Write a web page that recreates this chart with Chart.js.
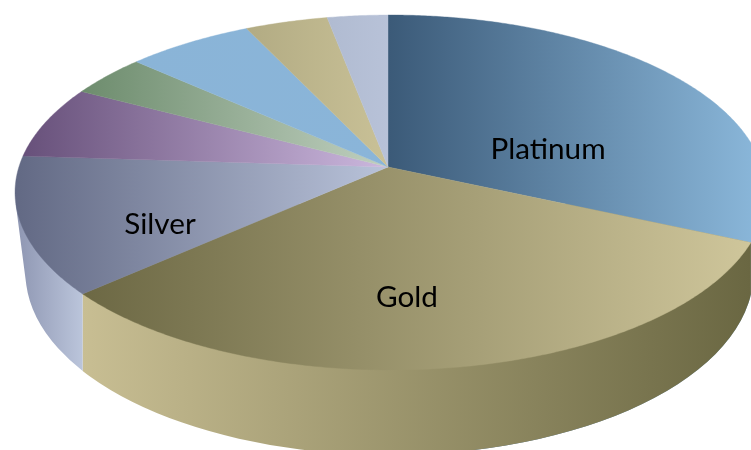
<!DOCTYPE html>
<html>
<head>
<meta charset="utf-8">
<style>html,body{margin:0;padding:0;background:#fff;overflow:hidden}canvas{display:block}</style>
<script src="https://cdn.jsdelivr.net/npm/chart.js@4"></script>
</head>
<body>
<canvas id="c" width="751" height="450"></canvas>
<script>
const categories = ["Platinum","Gold","Silver","Palladium","Rhodium","Copper","Nickel","Other"];
const shares = [31.7,31.8,12.6,6.7,3.9,6.3,4.1,3.0];
const sliceDark  = ["#3b5a78","#6c6844","#626984","#67507a","#6d8c6d","#8ab4d7","#b2ab83","#b0bbd1"];
const sliceLight = ["#8cb9dc","#cfc69b","#b9c3da","#ccb8de","#c0d0c0","#8ab5d9","#c9c197","#b8c2d8"];
const wallDark   = ["#3b5a78","#6a6742","#8d95b1"];
const wallLight  = ["#8ab7da","#c8be93","#bbc5db"];
const labelled   = ["Platinum","Gold","Silver"];

// Perspective of the pie's top face
const view = {cx:388, cy:167, A:371.6, B:173.8, tilt:0.1437, skew:0.0067,
  topCx:390.5, topCy:192.5, topRx:375.5, topRy:177.5,
  botCx:389.5, botCy:273, botRx:364, botRy:182, slope:0.136};
const labelAt = {Platinum:[548,149], Gold:[407,297], Silver:[160,224]};

function project(t){
  const u=Math.cos(t), v=Math.sin(t), w=1-view.tilt*v-view.skew*u;
  return [view.cx+view.A*u/w, view.cy+view.B*v/w];
}
function arcPoints(a,b){
  const n=Math.max(2,Math.ceil((b-a)/(Math.PI/360))), pts=[];
  for(let i=0;i<=n;i++) pts.push(project(a+(b-a)*i/n));
  return pts;
}
function grad(ctx,x0,x1,c0,c1){
  const g=ctx.createLinearGradient(x0,0,x1,0);
  g.addColorStop(0,c0); g.addColorStop(1,c1);
  return g;
}
function drawSlice(ctx,el,i){
  const pts=arcPoints(el.startAngle,el.endAngle);
  const xs=pts.map(p=>p[0]).concat(view.cx);
  const g=grad(ctx,Math.min(...xs),Math.max(...xs),sliceDark[i],sliceLight[i]);
  ctx.save();
  ctx.beginPath();
  ctx.moveTo(view.cx,view.cy);
  pts.forEach(p=>ctx.lineTo(p[0],p[1]));
  ctx.closePath();
  ctx.fillStyle=g; ctx.strokeStyle=g; ctx.lineWidth=0.4;
  ctx.fill(); ctx.stroke();
  ctx.restore();
}
function wallPath(ctx){
  const dB=Math.atan(view.slope*view.botRy/view.botRx);
  const dT=Math.atan(view.slope*view.topRy/view.topRx);
  ctx.beginPath();
  ctx.ellipse(view.botCx,view.botCy,view.botRx,view.botRy,0,dB,Math.PI-dB,false);
  ctx.lineTo(view.topCx-view.topRx*Math.cos(dT),view.topCy+view.topRy*Math.sin(dT));
  ctx.lineTo(view.topCx+view.topRx*Math.cos(dT),view.topCy+view.topRy*Math.sin(dT));
  ctx.closePath();
}
const pie3d = {
  id:"pie3d",
  beforeDatasetDraw(chart){
    const ctx=chart.ctx, els=chart.getDatasetMeta(0).data;
    els.forEach((el,i)=>{
      if(i>=wallDark.length) return;
      const a=el.startAngle, b=el.endAngle;
      const hasRight=a<=0&&b>=0, hasLeft=a<=Math.PI&&b>=Math.PI;
      const xa=project(a)[0], xb=project(b)[0];
      const x0=hasLeft?view.topCx-view.topRx:Math.min(xa,xb);
      const x1=hasRight?view.topCx+view.topRx:Math.max(xa,xb);
      ctx.save();
      ctx.beginPath();
      ctx.rect(x0,0,x1-x0,chart.height);
      ctx.clip();
      wallPath(ctx);
      ctx.fillStyle=i===1
        ? grad(ctx,x0,x1,wallLight[i],wallDark[i])
        : grad(ctx,x0,x1,wallDark[i],wallLight[i]);
      ctx.fill();
      ctx.restore();
    });
    els.forEach((el,i)=>{ el.draw=function(c){ drawSlice(c,this,i); }; });
  },
  afterDatasetsDraw(chart){
    const ctx=chart.ctx;
    ctx.save();
    ctx.fillStyle="#000";
    ctx.font="29.7px Lato";
    ctx.textAlign="center"; ctx.textBaseline="middle";
    labelled.forEach(n=>ctx.fillText(n,labelAt[n][0],labelAt[n][1]));
    ctx.restore();
  }
};
new Chart(document.getElementById("c"),{
  type:"pie",
  data:{labels:categories,datasets:[{data:shares,backgroundColor:sliceLight,borderWidth:0}]},
  options:{responsive:false,animation:false,events:[],
    plugins:{legend:{display:false},tooltip:{enabled:false},title:{display:false}}},
  plugins:[pie3d]
});
</script>
</body>
</html>
